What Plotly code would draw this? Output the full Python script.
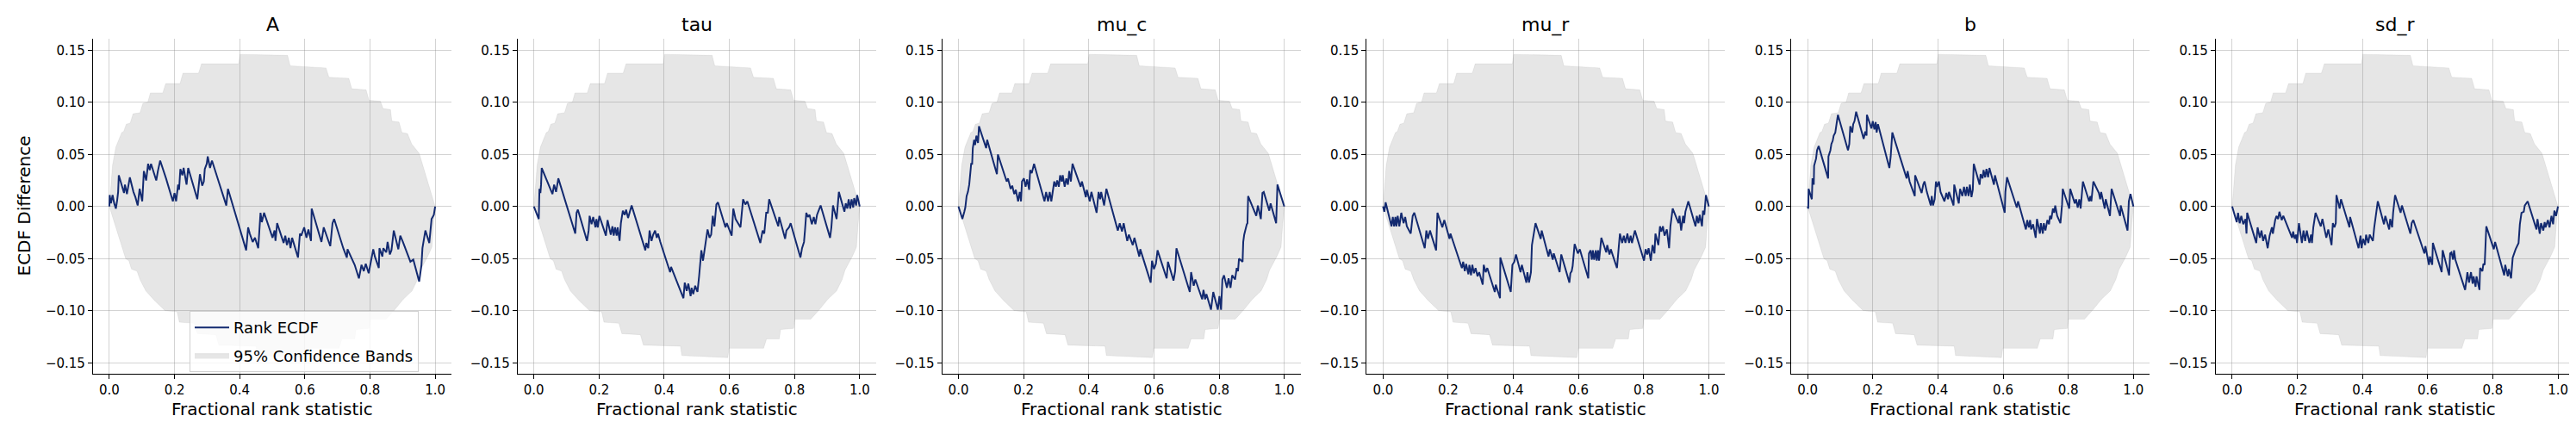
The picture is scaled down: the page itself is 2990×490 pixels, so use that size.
import plotly.graph_objects as go

# subplot titles
panel_titles = ["A", "tau", "mu_c", "mu_r", "b", "sd_r"]

# rank ECDF difference, (fractional rank, ECDF difference) vertices
ecdf_A = [(0.000, 0.000), (0.001, 0.011), (0.005, 0.003), (0.010, 0.011), (0.015, 0.003), (0.020, -0.002),
          (0.024, 0.006), (0.027, 0.014), (0.029, 0.030), (0.045, 0.013), (0.048, 0.021), (0.054, 0.012),
          (0.063, 0.028), (0.074, 0.014), (0.080, 0.009), (0.087, 0.001), (0.093, 0.017), (0.101, 0.005),
          (0.106, 0.034), (0.113, 0.025), (0.119, 0.041), (0.124, 0.035), (0.128, 0.041), (0.137, 0.031),
          (0.144, 0.025), (0.149, 0.034), (0.156, 0.044), (0.174, 0.027), (0.195, 0.005), (0.200, 0.013),
          (0.205, 0.005), (0.211, 0.021), (0.214, 0.016), (0.218, 0.036), (0.224, 0.030), (0.228, 0.037),
          (0.233, 0.028), (0.237, 0.021), (0.242, 0.037), (0.270, 0.007), (0.278, 0.031), (0.285, 0.020),
          (0.290, 0.024), (0.293, 0.036), (0.299, 0.041), (0.302, 0.048), (0.309, 0.037), (0.315, 0.044),
          (0.359, 0.001), (0.364, 0.017), (0.420, -0.042), (0.426, -0.020), (0.431, -0.026), (0.440, -0.034),
          (0.447, -0.030), (0.457, -0.040), (0.464, -0.006), (0.468, -0.015), (0.475, -0.006), (0.501, -0.030),
          (0.507, -0.023), (0.510, -0.033), (0.515, -0.016), (0.535, -0.035), (0.540, -0.028), (0.545, -0.037),
          (0.551, -0.030), (0.556, -0.040), (0.561, -0.030), (0.574, -0.044), (0.579, -0.049), (0.585, -0.026),
          (0.589, -0.028), (0.598, -0.020), (0.605, -0.030), (0.611, -0.022), (0.619, -0.033), (0.621, -0.002),
          (0.651, -0.034), (0.658, -0.020), (0.678, -0.038), (0.685, -0.016), (0.690, -0.012), (0.718, -0.040),
          (0.729, -0.049), (0.731, -0.041), (0.753, -0.056), (0.766, -0.069), (0.774, -0.056), (0.781, -0.062),
          (0.787, -0.055), (0.796, -0.064), (0.810, -0.041), (0.815, -0.048), (0.827, -0.059), (0.829, -0.040),
          (0.838, -0.048), (0.841, -0.040), (0.850, -0.044), (0.854, -0.034), (0.861, -0.046), (0.866, -0.042),
          (0.873, -0.023), (0.887, -0.041), (0.893, -0.028), (0.901, -0.034), (0.924, -0.053), (0.933, -0.051),
          (0.951, -0.072), (0.958, -0.056), (0.961, -0.040), (0.970, -0.023), (0.982, -0.035), (0.989, -0.012),
          (0.996, -0.008), (1.000, 0.000)]

ecdf_tau = [(0.000, 0.000), (0.015, -0.012), (0.017, 0.017), (0.020, 0.013), (0.022, 0.021), (0.024, 0.037),
            (0.057, 0.012), (0.062, 0.021), (0.068, 0.014), (0.075, 0.027), (0.127, -0.026), (0.131, -0.006),
            (0.135, -0.003), (0.163, -0.033), (0.168, -0.023), (0.171, -0.009), (0.177, -0.017), (0.182, -0.010),
            (0.189, -0.020), (0.192, -0.012), (0.196, -0.020), (0.201, -0.009), (0.221, -0.028), (0.226, -0.013),
            (0.236, -0.027), (0.241, -0.019), (0.245, -0.028), (0.249, -0.020), (0.254, -0.028), (0.257, -0.020),
            (0.263, -0.033), (0.267, -0.016), (0.273, -0.004), (0.279, -0.008), (0.283, -0.003), (0.289, -0.011),
            (0.300, 0.001), (0.342, -0.042), (0.345, -0.035), (0.351, -0.040), (0.355, -0.023), (0.361, -0.033),
            (0.366, -0.027), (0.372, -0.023), (0.377, -0.030), (0.381, -0.026), (0.388, -0.034), (0.418, -0.063),
            (0.421, -0.058), (0.459, -0.088), (0.463, -0.073), (0.469, -0.081), (0.474, -0.074), (0.481, -0.086),
            (0.484, -0.078), (0.489, -0.084), (0.495, -0.076), (0.502, -0.082), (0.507, -0.067), (0.514, -0.042),
            (0.519, -0.052), (0.526, -0.036), (0.533, -0.022), (0.539, -0.030), (0.544, -0.027), (0.549, -0.009),
            (0.554, -0.019), (0.560, 0.002), (0.565, 0.004), (0.588, -0.020), (0.592, -0.016), (0.607, -0.028),
            (0.612, -0.002), (0.619, -0.012), (0.634, -0.020), (0.642, 0.007), (0.649, 0.002), (0.655, 0.005),
            (0.695, -0.035), (0.702, -0.023), (0.707, -0.026), (0.713, -0.006), (0.718, -0.006), (0.722, 0.007),
            (0.750, -0.019), (0.753, -0.010), (0.771, -0.031), (0.775, -0.023), (0.783, -0.020), (0.788, -0.016),
            (0.818, -0.049), (0.823, -0.040), (0.829, -0.034), (0.832, -0.023), (0.836, -0.006), (0.841, -0.010),
            (0.846, -0.008), (0.853, -0.017), (0.859, -0.010), (0.864, -0.017), (0.869, -0.008), (0.880, 0.001),
            (0.909, -0.030), (0.913, -0.020), (0.918, 0.001), (0.929, -0.012), (0.936, 0.014), (0.953, -0.005),
            (0.957, 0.003), (0.962, -0.002), (0.966, 0.007), (0.971, -0.002), (0.975, 0.007), (0.980, -0.001),
            (0.983, 0.008), (0.989, 0.001), (0.992, 0.011), (1.000, 0.000)]

ecdf_mu_c = [(0.000, 0.000), (0.012, -0.012), (0.018, -0.005), (0.021, -0.001), (0.025, 0.010), (0.029, 0.014),
             (0.033, 0.021), (0.039, 0.041), (0.042, 0.041), (0.044, 0.056), (0.048, 0.064), (0.051, 0.059),
             (0.055, 0.068), (0.060, 0.061), (0.063, 0.077), (0.085, 0.056), (0.088, 0.064), (0.118, 0.031),
             (0.121, 0.050), (0.148, 0.024), (0.152, 0.027), (0.160, 0.017), (0.165, 0.020), (0.171, 0.012),
             (0.176, 0.016), (0.183, 0.005), (0.188, 0.014), (0.192, 0.005), (0.195, 0.024), (0.201, 0.027),
             (0.206, 0.019), (0.211, 0.026), (0.217, 0.016), (0.220, 0.035), (0.225, 0.032), (0.232, 0.041),
             (0.264, 0.005), (0.269, 0.014), (0.275, 0.005), (0.280, 0.014), (0.285, 0.005), (0.290, 0.014),
             (0.294, 0.024), (0.299, 0.019), (0.303, 0.025), (0.308, 0.019), (0.312, 0.030), (0.317, 0.024),
             (0.320, 0.030), (0.326, 0.019), (0.331, 0.027), (0.336, 0.021), (0.340, 0.034), (0.345, 0.024),
             (0.350, 0.041), (0.375, 0.019), (0.379, 0.024), (0.391, 0.009), (0.394, 0.016), (0.403, 0.005),
             (0.408, 0.014), (0.424, -0.006), (0.430, 0.014), (0.435, 0.007), (0.438, 0.014), (0.447, 0.001),
             (0.454, 0.017), (0.489, -0.023), (0.495, -0.016), (0.502, -0.024), (0.507, -0.016), (0.518, -0.033),
             (0.523, -0.027), (0.535, -0.037), (0.540, -0.030), (0.555, -0.048), (0.558, -0.041), (0.590, -0.073),
             (0.594, -0.052), (0.600, -0.060), (0.606, -0.055), (0.611, -0.042), (0.639, -0.069), (0.643, -0.053),
             (0.660, -0.071), (0.665, -0.062), (0.669, -0.040), (0.710, -0.082), (0.714, -0.063), (0.722, -0.076),
             (0.727, -0.070), (0.748, -0.089), (0.752, -0.080), (0.757, -0.089), (0.761, -0.084), (0.775, -0.099),
             (0.782, -0.082), (0.796, -0.099), (0.801, -0.086), (0.806, -0.099), (0.810, -0.070), (0.815, -0.066),
             (0.824, -0.078), (0.829, -0.069), (0.835, -0.078), (0.840, -0.066), (0.849, -0.070), (0.854, -0.059),
             (0.858, -0.062), (0.861, -0.050), (0.872, -0.053), (0.874, -0.034), (0.877, -0.027), (0.885, -0.017),
             (0.887, -0.016), (0.889, 0.010), (0.914, -0.009), (0.919, 0.001), (0.928, -0.012), (0.933, 0.013),
             (0.937, 0.014), (0.954, -0.004), (0.958, 0.003), (0.975, -0.016), (0.979, 0.021), (1.000, 0.000)]

ecdf_mu_r = [(0.000, 0.000), (0.004, -0.005), (0.008, 0.004), (0.026, -0.019), (0.030, -0.010), (0.034, -0.019),
             (0.038, -0.010), (0.041, -0.019), (0.045, -0.009), (0.050, -0.019), (0.056, -0.006), (0.063, -0.016),
             (0.068, -0.010), (0.073, -0.019), (0.085, -0.026), (0.091, -0.009), (0.096, -0.006), (0.128, -0.040),
             (0.133, -0.023), (0.138, -0.031), (0.144, -0.023), (0.151, -0.030), (0.163, -0.042), (0.165, -0.023),
             (0.167, -0.006), (0.182, -0.020), (0.188, -0.013), (0.204, -0.031), (0.207, -0.026), (0.242, -0.059),
             (0.246, -0.053), (0.251, -0.062), (0.255, -0.055), (0.262, -0.065), (0.265, -0.056), (0.270, -0.066),
             (0.274, -0.056), (0.279, -0.064), (0.284, -0.059), (0.290, -0.067), (0.295, -0.063), (0.306, -0.075),
             (0.309, -0.056), (0.315, -0.063), (0.320, -0.059), (0.343, -0.082), (0.346, -0.075), (0.359, -0.088),
             (0.360, -0.049), (0.392, -0.082), (0.397, -0.056), (0.403, -0.053), (0.408, -0.046), (0.422, -0.063),
             (0.426, -0.056), (0.440, -0.073), (0.443, -0.063), (0.448, -0.073), (0.454, -0.063), (0.457, -0.037),
             (0.463, -0.023), (0.468, -0.016), (0.484, -0.031), (0.487, -0.023), (0.508, -0.048), (0.512, -0.041),
             (0.521, -0.051), (0.524, -0.045), (0.542, -0.063), (0.547, -0.046), (0.572, -0.073), (0.575, -0.064),
             (0.579, -0.062), (0.582, -0.057), (0.588, -0.036), (0.598, -0.045), (0.604, -0.041), (0.630, -0.069),
             (0.632, -0.045), (0.637, -0.042), (0.641, -0.051), (0.644, -0.042), (0.648, -0.051), (0.653, -0.042),
             (0.656, -0.052), (0.660, -0.042), (0.663, -0.052), (0.670, -0.030), (0.685, -0.044), (0.688, -0.037),
             (0.695, -0.046), (0.699, -0.041), (0.718, -0.059), (0.727, -0.026), (0.734, -0.035), (0.739, -0.028),
             (0.744, -0.035), (0.750, -0.026), (0.755, -0.035), (0.760, -0.028), (0.764, -0.035), (0.767, -0.030),
             (0.773, -0.023), (0.801, -0.052), (0.806, -0.041), (0.811, -0.046), (0.815, -0.040), (0.822, -0.052),
             (0.827, -0.037), (0.833, -0.045), (0.836, -0.026), (0.845, -0.037), (0.850, -0.019), (0.854, -0.024),
             (0.859, -0.019), (0.864, -0.028), (0.871, -0.022), (0.878, -0.040), (0.882, -0.019), (0.889, -0.002),
             (0.907, -0.016), (0.910, -0.009), (0.915, -0.023), (0.921, -0.009), (0.924, -0.016), (0.928, -0.005),
             (0.937, 0.005), (0.959, -0.019), (0.963, -0.009), (0.968, -0.016), (0.972, -0.008), (0.979, -0.019),
             (0.982, -0.004), (0.986, -0.008), (0.991, 0.011), (1.000, 0.000)]

ecdf_b = [(0.000, 0.000), (0.002, -0.002), (0.003, 0.017), (0.008, 0.012), (0.013, 0.007), (0.015, 0.027),
          (0.019, 0.021), (0.020, 0.039), (0.026, 0.046), (0.029, 0.054), (0.034, 0.058), (0.063, 0.027),
          (0.064, 0.048), (0.070, 0.054), (0.073, 0.060), (0.077, 0.063), (0.080, 0.068), (0.085, 0.071),
          (0.091, 0.082), (0.093, 0.088), (0.124, 0.054), (0.128, 0.060), (0.131, 0.077), (0.137, 0.071),
          (0.140, 0.079), (0.144, 0.082), (0.149, 0.091), (0.172, 0.065), (0.177, 0.072), (0.181, 0.068),
          (0.182, 0.088), (0.196, 0.075), (0.200, 0.082), (0.205, 0.074), (0.209, 0.081), (0.212, 0.071),
          (0.216, 0.079), (0.251, 0.037), (0.255, 0.048), (0.260, 0.071), (0.304, 0.027), (0.307, 0.034),
          (0.313, 0.024), (0.329, 0.010), (0.330, 0.030), (0.350, 0.013), (0.355, 0.021), (0.359, 0.024),
          (0.366, 0.014), (0.378, 0.001), (0.381, 0.010), (0.385, 0.001), (0.390, 0.007), (0.394, 0.024),
          (0.397, 0.019), (0.403, 0.024), (0.408, 0.014), (0.420, 0.005), (0.426, 0.013), (0.431, 0.007),
          (0.434, 0.014), (0.448, 0.001), (0.450, 0.021), (0.464, 0.003), (0.468, 0.017), (0.475, 0.010),
          (0.480, 0.019), (0.485, 0.010), (0.489, 0.019), (0.494, 0.010), (0.498, 0.021), (0.503, 0.009),
          (0.507, 0.016), (0.508, 0.034), (0.510, 0.041), (0.528, 0.021), (0.531, 0.031), (0.537, 0.027),
          (0.540, 0.035), (0.545, 0.028), (0.549, 0.036), (0.554, 0.028), (0.558, 0.037), (0.572, 0.021),
          (0.575, 0.030), (0.605, -0.006), (0.607, 0.014), (0.612, 0.028), (0.642, -0.001), (0.646, 0.005),
          (0.670, -0.022), (0.674, -0.013), (0.679, -0.020), (0.683, -0.013), (0.686, -0.022), (0.692, -0.017),
          (0.700, -0.030), (0.704, -0.012), (0.713, -0.026), (0.716, -0.016), (0.722, -0.026), (0.725, -0.016),
          (0.730, -0.023), (0.736, -0.013), (0.741, -0.017), (0.744, -0.009), (0.748, -0.012), (0.753, -0.002),
          (0.757, -0.006), (0.760, 0.001), (0.766, -0.009), (0.776, -0.016), (0.781, 0.002), (0.783, 0.017),
          (0.803, -0.002), (0.806, 0.017), (0.820, 0.003), (0.824, 0.007), (0.829, -0.001), (0.834, 0.007),
          (0.838, -0.002), (0.841, 0.009), (0.845, 0.024), (0.864, 0.005), (0.868, 0.010), (0.871, 0.005),
          (0.877, 0.024), (0.894, 0.013), (0.898, 0.007), (0.901, 0.014), (0.912, -0.002), (0.915, 0.007),
          (0.928, -0.009), (0.933, 0.017), (0.959, -0.009), (0.961, 0.001), (0.982, -0.023), (0.986, 0.005),
          (0.991, 0.012), (1.000, 0.000)]

ecdf_sd_r = [(0.000, 0.000), (0.014, -0.015), (0.018, -0.006), (0.023, -0.016), (0.028, -0.009), (0.034, -0.017),
             (0.041, -0.012), (0.044, -0.026), (0.046, -0.006), (0.074, -0.035), (0.078, -0.020), (0.085, -0.030),
             (0.090, -0.023), (0.095, -0.033), (0.101, -0.027), (0.109, -0.040), (0.115, -0.028), (0.122, -0.020),
             (0.125, -0.026), (0.129, -0.017), (0.132, -0.013), (0.136, -0.009), (0.141, -0.012), (0.145, -0.005),
             (0.152, -0.013), (0.157, -0.009), (0.184, -0.030), (0.187, -0.024), (0.192, -0.031), (0.196, -0.027),
             (0.199, -0.035), (0.205, -0.016), (0.214, -0.035), (0.219, -0.023), (0.224, -0.033), (0.229, -0.023),
             (0.237, -0.035), (0.242, -0.027), (0.245, -0.035), (0.249, -0.020), (0.252, -0.013), (0.256, -0.006),
             (0.272, -0.019), (0.277, -0.012), (0.289, -0.030), (0.295, -0.022), (0.305, -0.037), (0.309, -0.016),
             (0.314, -0.020), (0.318, -0.016), (0.320, 0.011), (0.330, -0.002), (0.334, 0.007), (0.360, -0.020),
             (0.362, -0.010), (0.388, -0.040), (0.394, -0.028), (0.397, -0.040), (0.402, -0.031), (0.408, -0.037),
             (0.411, -0.027), (0.418, -0.035), (0.422, -0.027), (0.432, -0.033), (0.436, -0.020), (0.440, -0.009),
             (0.443, -0.004), (0.447, 0.005), (0.466, -0.017), (0.470, -0.009), (0.482, -0.022), (0.485, -0.012),
             (0.491, -0.020), (0.494, -0.006), (0.500, 0.011), (0.517, -0.006), (0.521, 0.001), (0.547, -0.026),
             (0.551, -0.016), (0.556, -0.013), (0.590, -0.045), (0.593, -0.038), (0.604, -0.056), (0.607, -0.048),
             (0.614, -0.056), (0.616, -0.035), (0.643, -0.063), (0.646, -0.042), (0.666, -0.066), (0.669, -0.045),
             (0.673, -0.044), (0.678, -0.051), (0.681, -0.042), (0.685, -0.051), (0.715, -0.080), (0.718, -0.073),
             (0.722, -0.063), (0.727, -0.073), (0.733, -0.063), (0.738, -0.074), (0.741, -0.067), (0.747, -0.077),
             (0.750, -0.067), (0.759, -0.080), (0.761, -0.059), (0.768, -0.062), (0.771, -0.055), (0.775, -0.056),
             (0.778, -0.037), (0.780, -0.019), (0.803, -0.041), (0.807, -0.034), (0.835, -0.066), (0.838, -0.056),
             (0.846, -0.067), (0.849, -0.060), (0.856, -0.069), (0.861, -0.049), (0.870, -0.041), (0.879, -0.035),
             (0.883, -0.017), (0.888, -0.006), (0.895, -0.005), (0.898, 0.001), (0.907, 0.005), (0.934, -0.022),
             (0.937, -0.012), (0.944, -0.026), (0.948, -0.016), (0.955, -0.023), (0.959, -0.015), (0.962, -0.020),
             (0.969, -0.013), (0.974, -0.020), (0.980, -0.009), (0.985, -0.017), (0.989, -0.004), (0.994, -0.009),
             (1.000, 0.000)]

ecdf_series = [ecdf_A, ecdf_tau, ecdf_mu_c, ecdf_mu_r, ecdf_b, ecdf_sd_r]

# 95% simultaneous confidence band (same for every parameter)
band_upper = [(0.000, 0.000), (0.010, 0.040), (0.020, 0.057), (0.038, 0.071), (0.044, 0.072), (0.052, 0.079),
              (0.064, 0.080), (0.073, 0.089), (0.094, 0.090), (0.103, 0.099), (0.118, 0.100), (0.126, 0.109),
              (0.164, 0.109), (0.173, 0.118), (0.217, 0.118), (0.226, 0.128), (0.274, 0.128), (0.283, 0.137),
              (0.397, 0.137), (0.401, 0.146), (0.547, 0.145), (0.555, 0.135), (0.665, 0.133), (0.674, 0.124),
              (0.735, 0.123), (0.744, 0.113), (0.788, 0.112), (0.797, 0.102), (0.832, 0.101), (0.840, 0.094),
              (0.863, 0.093), (0.867, 0.082), (0.889, 0.081), (0.898, 0.071), (0.915, 0.070), (0.928, 0.060),
              (0.951, 0.051), (1.000, 0.000)]
band_lower = [(0.000, 0.000), (0.050, -0.050), (0.060, -0.052), (0.068, -0.060), (0.085, -0.062), (0.094, -0.070),
              (0.112, -0.081), (0.138, -0.090), (0.171, -0.100), (0.208, -0.101), (0.215, -0.111), (0.261, -0.112),
              (0.270, -0.122), (0.327, -0.123), (0.336, -0.133), (0.450, -0.134), (0.454, -0.143), (0.595, -0.145),
              (0.599, -0.136), (0.705, -0.136), (0.714, -0.127), (0.753, -0.127), (0.757, -0.118), (0.797, -0.117),
              (0.801, -0.108), (0.850, -0.108), (0.876, -0.099), (0.902, -0.089), (0.929, -0.081), (0.946, -0.070),
              (0.955, -0.061), (0.977, -0.048), (0.990, -0.039), (0.995, -0.017), (1.000, 0.000)]

x_ticks = [0.0, 0.2, 0.4, 0.6, 0.8, 1.0]
x_tick_labels = ["0.0", "0.2", "0.4", "0.6", "0.8", "1.0"]
y_ticks = [-0.15, -0.10, -0.05, 0.0, 0.05, 0.10, 0.15]
y_tick_labels = ["\u22120.15", "\u22120.10", "\u22120.05", "0.00", "0.05", "0.10", "0.15"]

W, H = 2990, 490
FONT = "DejaVu Sans"
LINE_COLOR = "#132a70"
left_px, step_px, width_px = 100, 492.8, 416
y_dom = [1 - 426 / H, 1 - 37 / H]

band_x = [p[0] for p in band_upper] + [p[0] for p in reversed(band_lower)]
band_y = [p[1] for p in band_upper] + [p[1] for p in reversed(band_lower)]

fig = go.Figure()
annotations = []

for i, (title, pts) in enumerate(zip(panel_titles, ecdf_series)):
    sfx = "" if i == 0 else str(i + 1)
    fig.add_trace(go.Scatter(
        x=band_x, y=band_y, xaxis="x" + sfx, yaxis="y" + sfx,
        mode="lines", fill="toself", fillcolor="rgba(128,128,128,0.2)",
        line=dict(color="rgba(128,128,128,0.12)", width=1),
        name="95% Confidence Bands", legendgroup="band", showlegend=(i == 0), legendrank=2,
        hoverinfo="skip"))
    fig.add_trace(go.Scatter(
        x=[p[0] for p in pts], y=[p[1] for p in pts], xaxis="x" + sfx, yaxis="y" + sfx,
        mode="lines", line=dict(color=LINE_COLOR, width=2),
        name="Rank ECDF", legendgroup="ecdf", showlegend=(i == 0), legendrank=1))

    x0 = (left_px + i * step_px) / W
    x1 = x0 + width_px / W
    common = dict(showline=True, linecolor="black", linewidth=1.2, ticks="outside", ticklen=5,
                  tickwidth=1.2, tickcolor="black", showgrid=True, gridcolor="rgba(128,128,128,0.35)",
                  gridwidth=1, zeroline=False, tickfont=dict(family=FONT, size=15, color="black"))
    fig.layout["xaxis" + sfx] = dict(common, domain=[x0, x1], range=[-0.05, 1.05], anchor="y" + sfx,
                                     tickvals=x_ticks, ticktext=x_tick_labels)
    fig.layout["yaxis" + sfx] = dict(common, domain=y_dom, range=[-0.1605, 0.161], anchor="x" + sfx,
                                     tickvals=y_ticks, ticktext=y_tick_labels)

    xc = (x0 + x1) / 2
    annotations.append(dict(text=title, x=xc, y=1 - 21 / H, xref="paper", yref="paper",
                            xanchor="center", yanchor="middle", showarrow=False,
                            font=dict(family=FONT, size=22, color="black")))
    annotations.append(dict(text="Fractional rank statistic", x=xc, y=1 - 467 / H, xref="paper", yref="paper",
                            xanchor="center", yanchor="middle", showarrow=False,
                            font=dict(family=FONT, size=20, color="black")))

annotations.append(dict(text="ECDF Difference", x=19 / W, y=(y_dom[0] + y_dom[1]) / 2, xref="paper", yref="paper",
                        xanchor="center", yanchor="middle", textangle=-90, showarrow=False,
                        font=dict(family=FONT, size=20, color="black")))

fig.update_layout(
    width=W, height=H,
    margin=dict(l=0, r=0, t=0, b=0),
    paper_bgcolor="white", plot_bgcolor="white",
    font=dict(family=FONT, color="black"),
    annotations=annotations,
    legend=dict(x=212 / W, y=1 - 353 / H, xanchor="left", yanchor="top",
                bgcolor="rgba(255,255,255,0.8)", bordercolor="#d0d0d0", borderwidth=1,
                traceorder="grouped", tracegroupgap=6, itemwidth=40,
                font=dict(family=FONT, size=18, color="black")),
)

fig.write_html("out.html")
